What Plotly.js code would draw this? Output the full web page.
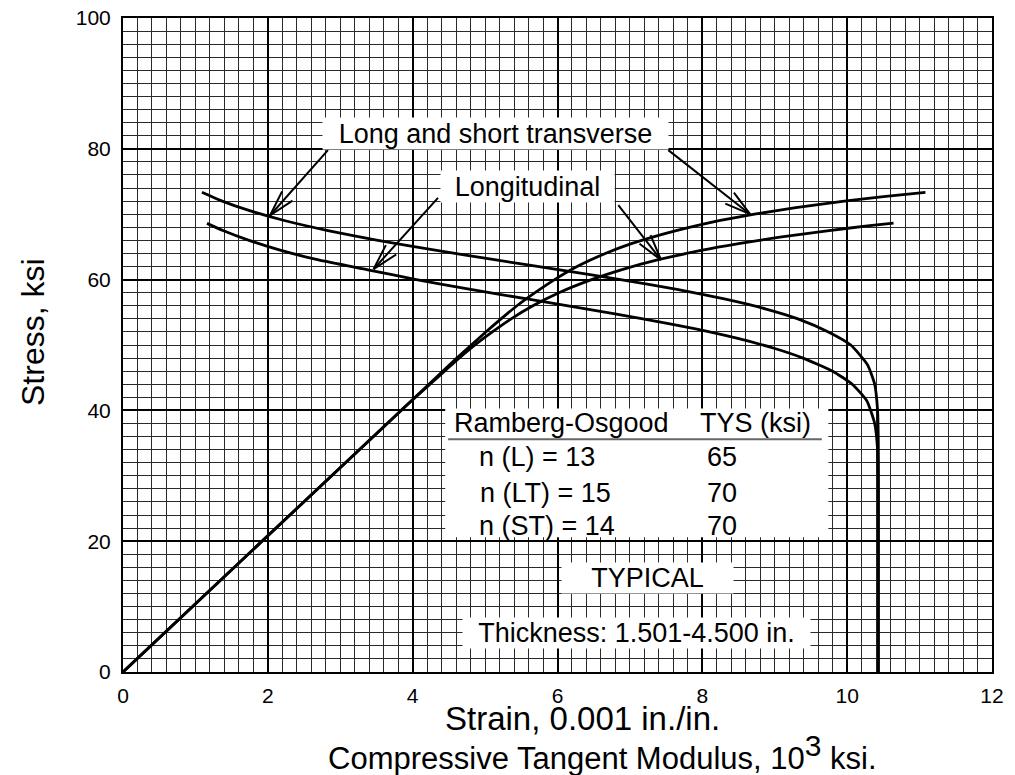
<!DOCTYPE html>
<html>
<head>
<meta charset="utf-8">
<script src="https://cdn.plot.ly/plotly-3.0.1.min.js"></script>
<style>html,body{margin:0;padding:0;background:#fff;}#chart{width:1015px;height:775px;}</style>
</head>
<body>
<div id="chart"></div>
<script>
// ---- Data ----
// Stress-strain, long & short transverse (strain, 0.001 in./in. ; stress, ksi)
const ssLT_strain = [0, 3.84, 4.32, 4.61, 4.81, 5.01, 5.22, 5.44, 5.69, 5.96, 6.27, 6.66, 7.02, 7.47, 7.82, 8.23, 8.72, 9.29, 9.96, 10.5, 11.08];
const ssLT_stress = [0, 40, 45, 48, 50, 52, 54, 56, 58, 60, 62, 64, 65.5, 67, 68, 69, 70, 71, 72, 72.7, 73.35];
// Stress-strain, longitudinal
const ssL_strain = [0, 3.84, 4.24, 4.54, 4.86, 5.10, 5.36, 5.66, 6.02, 6.47, 6.88, 7.38, 8.0, 8.5, 9.07, 9.75, 10.28, 10.64];
const ssL_stress = [0, 40, 44, 47, 50, 52, 54, 56, 58, 60, 61.5, 63, 64.5, 65.5, 66.5, 67.5, 68.2, 68.65];
// Compressive tangent modulus, long & short transverse (10^3 ksi ; stress, ksi)
const tmLT_mod = [1.09, 1.37, 1.76, 2.24, 2.83, 3.52, 4.31, 5.15, 6.03, 6.87, 7.65, 8.32, 8.88, 9.32, 9.74, 10.05, 10.28, 10.38, 10.42, 10.43, 10.43];
const tmLT_stress = [73.35, 72.0, 70.5, 69.0, 67.5, 66.0, 64.5, 63.0, 61.5, 60.0, 58.5, 57.0, 55.5, 54.0, 52.0, 50.0, 47.0, 44.0, 40.0, 35.0, 0];
// Compressive tangent modulus, longitudinal
const tmL_mod = [1.16, 1.38, 1.74, 2.17, 2.70, 3.38, 4.05, 4.80, 5.60, 6.41, 7.18, 7.89, 8.49, 8.99, 9.39, 9.80, 10.07, 10.27, 10.38, 10.42, 10.43, 10.43];
const tmL_stress = [68.6, 67.5, 66.0, 64.5, 63.0, 61.5, 60.0, 58.5, 57.0, 55.5, 54.0, 52.5, 51.0, 49.5, 48.0, 46.0, 44.0, 41.5, 38.0, 34.0, 28.0, 0];

const xTicks = [0, 2, 4, 6, 8, 10, 12];
const yTicks = [0, 20, 40, 60, 80, 100];

const tableHeader = ["Ramberg-Osgood", "TYS (ksi)"];
const tableN = ["n (L) = 13", "n (LT) = 15", "n (ST) = 14"];
const tableTYS = ["65", "70", "70"];

// ---- Layout constants ----
const W = 1015, H = 775;
const M = {l: 123, r: 23, t: 18, b: 103};
const plotW = W - M.l - M.r, plotH = H - M.t - M.b;
const xRange = [0, 12], yRange = [0, 100];
const pxX = plotW / (xRange[1] - xRange[0]);
const pxY = plotH / (yRange[1] - yRange[0]);
const FONT = "Arial, 'Liberation Sans', Helvetica, sans-serif";

const lineStyle = {color: '#000', width: 2.8, shape: 'spline', smoothing: 0.5};
const traces = [
  {x: ssLT_strain, y: ssLT_stress, mode: 'lines', line: lineStyle},
  {x: ssL_strain, y: ssL_stress, mode: 'lines', line: lineStyle},
  {x: tmLT_mod, y: tmLT_stress, mode: 'lines', line: lineStyle},
  {x: tmL_mod, y: tmL_stress, mode: 'lines', line: lineStyle}
];

const shapes = [];
// white panel for the table
shapes.push({type: 'rect', xref: 'x', yref: 'y', x0: 4.45, x1: 9.74, y0: 20.6, y1: 40.3,
  fillcolor: '#fff', line: {width: 0}, layer: 'between'});
// underline of table header
shapes.push({type: 'line', xref: 'x', yref: 'y', x0: 4.49, x1: 9.65, y0: 35.6, y1: 35.6,
  line: {color: '#666', width: 2}, layer: 'above'});

// arrows (shaft + open V head)
function arrow(tail, head) {
  shapes.push({type: 'line', xref: 'x', yref: 'y', x0: tail[0], y0: tail[1], x1: head[0], y1: head[1],
    line: {color: '#000', width: 2}});
  const dx = (tail[0] - head[0]) * pxX, dy = -(tail[1] - head[1]) * pxY;
  const len = Math.hypot(dx, dy), ux = dx / len, uy = dy / len;
  const L = 27, a = 15 * Math.PI / 180;
  [a, -a].forEach(t => {
    const bx = (ux * Math.cos(t) - uy * Math.sin(t)) * L;
    const by = (ux * Math.sin(t) + uy * Math.cos(t)) * L;
    shapes.push({type: 'line', xref: 'x', yref: 'y', x0: head[0], y0: head[1],
      x1: head[0] + bx / pxX, y1: head[1] - by / pxY, line: {color: '#000', width: 2}});
  });
}
arrow([2.83, 79.8], [2.03, 69.8]);
arrow([7.53, 79.8], [8.66, 70.0]);
arrow([4.35, 72.5], [3.46, 61.6]);
arrow([6.84, 71.4], [7.43, 63.0]);

const lblFont = {family: FONT, size: 27, color: '#000'};
function ann(o) { return Object.assign({xref: 'x', yref: 'y', showarrow: false, xanchor: 'center', yanchor: 'middle', font: lblFont}, o); }
const annotations = [
  ann({x: 5.15, y: 82.3, text: 'Long and short transverse', bgcolor: '#fff', width: 345, height: 31, borderpad: 0}),
  ann({x: 5.59, y: 74.3, text: 'Longitudinal', bgcolor: '#fff', width: 173, height: 31, borderpad: 0}),
  ann({x: 6.06, y: 38.1, text: tableHeader[0]}),
  ann({x: 8.73, y: 38.1, text: tableHeader[1]}),
  ann({x: 7.24, y: 14.4, text: 'TYPICAL', bgcolor: '#fff', width: 171, height: 30, borderpad: 0}),
  ann({x: 7.09, y: 5.96, text: 'Thickness: 1.501-4.500 in.', bgcolor: '#fff', width: 347, height: 30, borderpad: 0}),
  // axis titles
  ann({xref: 'paper', yref: 'paper', x: (582 - M.l) / plotW, y: -(718 - (H - M.b)) / plotH,
    text: 'Strain, 0.001 in./in.', font: {family: FONT, size: 33, color: '#000'}}),
  ann({xref: 'paper', yref: 'paper', x: (602 - M.l) / plotW, y: -(752 - (H - M.b)) / plotH,
    text: 'Compressive Tangent Modulus, 10<sup><span style="font-size:30px">3</span></sup> ksi.',
    font: {family: FONT, size: 31, color: '#000'}}),
  ann({xref: 'paper', yref: 'paper', x: (33 - M.l) / plotW, y: ((H - M.b) - 332) / plotH,
    text: 'Stress, ksi', textangle: -90, font: {family: FONT, size: 32, color: '#000'}})
];
const rowY = [32.9, 27.4, 22.3];
const rowX = [4.89, 4.90, 4.89];
tableN.forEach((t, i) => {
  annotations.push(ann({x: rowX[i], y: rowY[i], xanchor: 'left', text: t}));
  annotations.push(ann({x: 8.27, y: rowY[i], text: tableTYS[i]}));
});

const layout = {
  width: W, height: H,
  margin: M,
  paper_bgcolor: '#fff', plot_bgcolor: '#fff',
  showlegend: false, hovermode: false,
  font: {family: FONT, color: '#000'},
  xaxis: {
    range: xRange, tickmode: 'array', tickvals: xTicks, ticktext: xTicks.map(String),
    showgrid: true, gridcolor: '#000', gridwidth: 2,
    minor: {dtick: 0.2, showgrid: true, gridcolor: '#2a2a2a', gridwidth: 1, ticks: ''},
    showline: true, linecolor: '#000', linewidth: 2, mirror: true,
    ticks: '', zeroline: false, tickfont: {family: FONT, size: 21, color: '#000'}, ticklabelstandoff: 4
  },
  yaxis: {
    range: yRange, tickmode: 'array', tickvals: yTicks, ticktext: yTicks.map(String),
    showgrid: true, gridcolor: '#000', gridwidth: 2,
    minor: {dtick: 2, showgrid: true, gridcolor: '#2a2a2a', gridwidth: 1, ticks: ''},
    showline: true, linecolor: '#000', linewidth: 2, mirror: true,
    ticks: '', zeroline: false, tickfont: {family: FONT, size: 21, color: '#000'}, ticklabelstandoff: 6
  },
  shapes: shapes,
  annotations: annotations
};

Plotly.newPlot('chart', traces, layout, {staticPlot: true, displayModeBar: false});
</script>
</body>
</html>
